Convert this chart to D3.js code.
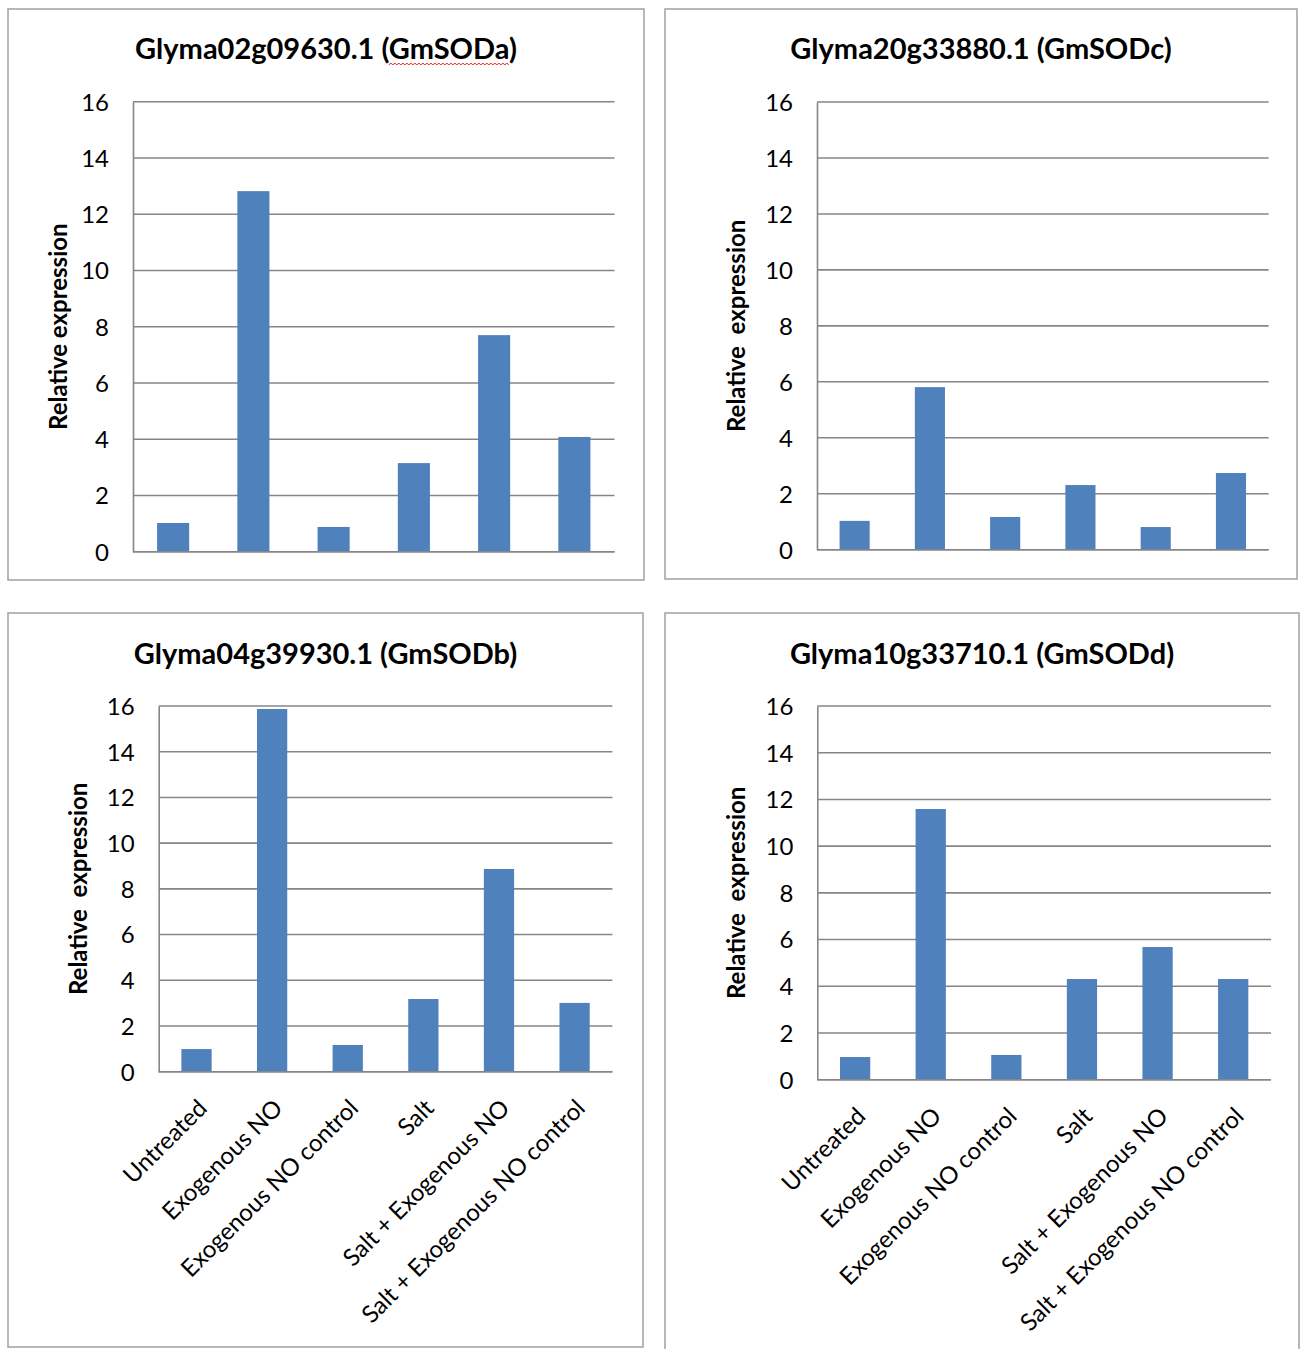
<!DOCTYPE html>
<html><head><meta charset="utf-8">
<script src="https://cdn.jsdelivr.net/npm/d3@7"></script>
<style>body{margin:0;background:#fff} svg{display:block}</style>
</head><body>
<svg id="c" width="1304" height="1349"></svg>
<script>
const categories = ["Untreated", "Exogenous NO", "Exogenous NO control", "Salt", "Salt + Exogenous NO", "Salt + Exogenous NO control"];
const yTickValues = [0, 2, 4, 6, 8, 10, 12, 14, 16];
const titleA = ["Glyma02g09630.1 (", "GmSODa", ")"];
const titleB = ["Glyma20g33880.1 (", "GmSODc", ")"];
const titleC = ["Glyma04g39930.1 (", "GmSODb", ")"];
const titleD = ["Glyma10g33710.1 (", "GmSODd", ")"];
const valuesSODa = [1.02, 12.82, 0.88, 3.15, 7.70, 4.08];
const valuesSODc = [1.03, 5.81, 1.17, 2.31, 0.81, 2.74];
const valuesSODb = [0.99, 15.87, 1.17, 3.18, 8.87, 3.01];
const valuesSODd = [0.97, 11.59, 1.06, 4.31, 5.68, 4.31];
const yLabelA = "Relative expression";
const yLabelOther = "Relative\u00a0\u00a0expression";

const panels = [
  {title: titleA, values: valuesSODa, yLabel: yLabelA, box: [8, 9, 636, 571], plot: [133, 614.5, 551.7, 101.7], titleY: 59, yLabelX: 67, xLabels: false, squiggle: true},
  {title: titleB, values: valuesSODc, yLabel: yLabelOther, box: [665, 9, 632, 570], plot: [817, 1268.6, 549.7, 102], titleY: 59, yLabelX: 745, xLabels: false},
  {title: titleC, values: valuesSODb, yLabel: yLabelOther, box: [8, 613, 635, 734], plot: [158.7, 612.4, 1071.7, 706], titleY: 664, yLabelX: 87, xLabels: true},
  {title: titleD, values: valuesSODd, yLabel: yLabelOther, box: [665, 613, 634, 760], plot: [817.3, 1271, 1079.7, 706], titleY: 664, yLabelX: 745, xLabels: true}
];

const svg = d3.select("#c");
const FONT = "Lato, 'Open Sans', sans-serif";
const gridColor = "#868686";
const barColor = "#4F81BD";

panels.forEach(p => {
  const g = svg.append("g");
  const [bx, by, bw, bh] = p.box;
  g.append("rect").attr("x", bx).attr("y", by).attr("width", bw).attr("height", bh)
    .attr("fill", "#fff").attr("stroke", "#a0a0a0").attr("stroke-width", 1.5);

  const [x0, x1, yb, yt] = p.plot;
  const x = d3.scaleBand().domain(categories).range([x0, x1]).padding(0);
  const y = d3.scaleLinear().domain([0, 16]).range([yb, yt]);

  g.append("g").selectAll("line").data(yTickValues).join("line")
    .attr("x1", x0).attr("x2", x1)
    .attr("y1", d => y(d)).attr("y2", d => y(d))
    .attr("stroke", gridColor).attr("stroke-width", 1.6);

  const ya = g.append("g").attr("transform", `translate(${x0},0)`)
    .call(d3.axisLeft(y).tickValues(yTickValues).tickSize(0).tickPadding(24));
  ya.select(".domain").attr("stroke", gridColor).attr("stroke-width", 1.6);
  ya.selectAll("text").attr("font-family", FONT).attr("font-size", 24).attr("fill", "#000").attr("dy", "0.35em");

  const bwid = x.bandwidth() * 0.4;
  g.append("g").selectAll("rect").data(p.values).join("rect")
    .attr("x", (d, i) => x(categories[i]) + x.bandwidth() / 2 - bwid / 2)
    .attr("width", bwid)
    .attr("y", d => y(d))
    .attr("height", d => y(0) - y(d))
    .attr("fill", barColor);

  g.append("line").attr("x1", x0).attr("x2", x1).attr("y1", y(0)).attr("y2", y(0))
    .attr("stroke", gridColor).attr("stroke-width", 1.6);

  const cx = bx + bw / 2;
  const t = g.append("text").attr("x", cx).attr("y", p.titleY)
    .attr("text-anchor", "middle").attr("font-family", FONT).attr("font-weight", "bold")
    .attr("font-size", 29).attr("fill", "#000");
  t.append("tspan").text(p.title[0]);
  t.append("tspan").text(p.title[1]);
  t.append("tspan").text(p.title[2]);

  if (p.squiggle) {
    const node = t.node();
    const s = p.title[0].length;
    const e = s + p.title[1].length - 1;
    const sx = node.getStartPositionOfChar(s).x;
    const ex = node.getEndPositionOfChar(e).x;
    const yy = p.titleY + 6;
    let path = `M${sx},${yy}`;
    let up = true;
    for (let xx = sx + 2; xx <= ex; xx += 2) {
      path += `L${xx},${up ? yy - 2 : yy}`;
      up = !up;
    }
    g.append("path").attr("d", path).attr("fill", "none").attr("stroke", "#e02020").attr("stroke-width", 1);
  }

  g.append("text")
    .attr("transform", `translate(${p.yLabelX},${(yb + yt) / 2}) rotate(-90)`)
    .attr("text-anchor", "middle").attr("font-family", FONT).attr("font-weight", "bold")
    .attr("font-size", 24).attr("fill", "#000")
    .text(p.yLabel);

  if (p.xLabels) {
    g.append("g").selectAll("text").data(categories).join("text")
      .attr("transform", d => `translate(${x(d) + x.bandwidth() / 2 + 12},${yb + 38}) rotate(-45)`)
      .attr("text-anchor", "end").attr("font-family", FONT).attr("font-size", 24).attr("fill", "#000")
      .text(d => d);
  }
});
</script>
</body></html>
